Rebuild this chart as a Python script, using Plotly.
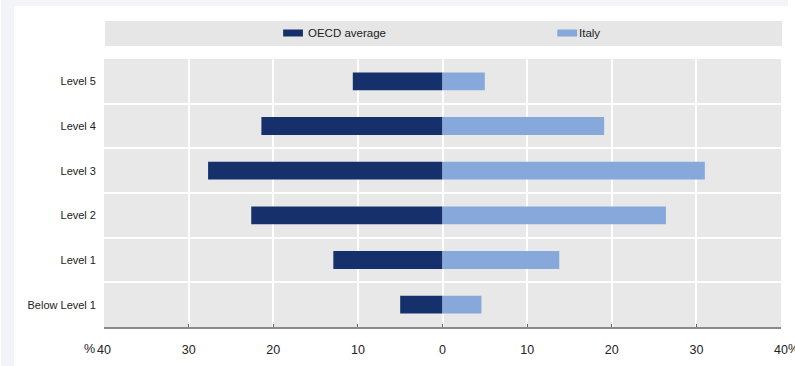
import plotly.graph_objects as go

categories = ["Below Level 1", "Level 1", "Level 2", "Level 3", "Level 4", "Level 5"]
oecd_average = [5.0, 12.9, 22.6, 27.7, 21.4, 10.6]
italy = [4.6, 13.8, 26.4, 31.0, 19.1, 5.0]
series_names = ["OECD average", "Italy"]
x_tickvals = [-40, -30, -20, -10, 0, 10, 20, 30, 40]
x_ticktext = ["40", "30", "20", "10", "0", "10", "20", "30", "40"]

FONT = "Liberation Sans Narrow, Arial Narrow, Liberation Sans, Arial, sans-serif"
NAVY = "#16306c"
LIGHT = "#87a8da"

fig = go.Figure()
fig.add_trace(go.Bar(
    y=categories, x=[-v for v in oecd_average], orientation="h", name=series_names[0],
    marker=dict(color=NAVY, line=dict(width=0)), width=0.4,
    customdata=oecd_average, hovertemplate="%{y}: %{customdata}%<extra>OECD average</extra>",
))
fig.add_trace(go.Bar(
    y=categories, x=italy, orientation="h", name=series_names[1],
    marker=dict(color=LIGHT, line=dict(width=0)), width=0.4,
    hovertemplate="%{y}: %{x}%<extra>Italy</extra>",
))

W, H = 795, 366
L, R, T, B = 104, 7, 59, 39
pw, ph = W - L - R, H - T - B


def px_x(p):
    return (p - L) / pw


def px_y(p):
    return (H - B - p) / ph


legend_shapes = []
legend_notes = []
for name, color, sx, tx in [(series_names[0], NAVY, 285, 308), (series_names[1], LIGHT, 562, 582)]:
    legend_shapes.append(dict(type="rect", xref="paper", yref="paper",
                              x0=px_x(sx), x1=px_x(sx + 20), y0=px_y(36.5), y1=px_y(29.5),
                              fillcolor=color, line=dict(width=0), layer="above"))
    legend_notes.append(dict(x=px_x(tx), y=px_y(33), xref="paper", yref="paper", text=name,
                             showarrow=False, xanchor="left", yanchor="middle",
                             font=dict(size=11.5, color="#222")))

fig.update_layout(
    width=W, height=H, autosize=False,
    margin=dict(l=L, r=R, t=T, b=B, pad=0),
    paper_bgcolor="white",
    plot_bgcolor="#e8e8e8",
    barmode="overlay",
    font=dict(family=FONT, size=12, color="#222"),
    showlegend=False,
    xaxis=dict(
        range=[-40, 40], tickvals=x_tickvals, ticktext=x_ticktext,
        showgrid=True, gridcolor="white", gridwidth=1.5,
        zeroline=False, showline=True, linecolor="#8a8a8a", linewidth=2,
        ticks="inside", ticklen=3, tickcolor="#666", tickwidth=1,
        tickfont=dict(size=12.5, color="#222"), ticklabelstandoff=10,
        fixedrange=True,
    ),
    xaxis2=dict(
        overlaying="x", side="top", anchor="y", range=[-40, 40],
        tickvals=x_tickvals, ticktext=x_ticktext, showgrid=False, zeroline=False,
        showline=False, ticks="", tickfont=dict(size=12.5, color="#555"),
        ticklabelstandoff=31, fixedrange=True,
    ),
    yaxis=dict(
        categoryorder="array", categoryarray=categories, range=[-0.5, 5.5],
        tickson="boundaries", showgrid=True, gridcolor="white", gridwidth=1.5,
        zeroline=False, showline=False, ticks="", ticklabelstandoff=7,
        tickfont=dict(size=11, color="#222"), fixedrange=True,
    ),
    yaxis2=dict(
        overlaying="y", anchor="free", position=0.5, side="right",
        range=[-0.5, 5.5], tickvals=[0.5, 1.5, 2.5, 3.5, 4.5],
        showticklabels=False, showgrid=False, zeroline=False,
        showline=True, linecolor="#333", linewidth=1.5,
        ticks="outside", ticklen=3, tickcolor="#555", tickwidth=1,
        layer="above traces", fixedrange=True,
    ),
    annotations=[
        dict(x=-40, y=0, xref="x", yref="paper", text="%", showarrow=False,
             xanchor="right", yanchor="top", xshift=-7, yshift=-13,
             font=dict(size=12.5, color="#222")),
        dict(x=40, y=0, xref="x", yref="paper", text="%", showarrow=False,
             xanchor="left", yanchor="top", xshift=5, yshift=-13,
             font=dict(size=12.5, color="#222")),
    ] + legend_notes,
    shapes=[
        # legend band
        dict(type="rect", xref="paper", yref="paper", x0=px_x(105), x1=px_x(789),
             y0=px_y(46), y1=px_y(21), fillcolor="#e6e6e6", line=dict(width=0), layer="above"),
        # page frame strips
        dict(type="rect", xref="paper", yref="paper", x0=px_x(0), x1=px_x(13),
             y0=px_y(H), y1=px_y(0), fillcolor="#f2f4f8", line=dict(width=0), layer="above"),
        dict(type="rect", xref="paper", yref="paper", x0=px_x(0), x1=px_x(W),
             y0=px_y(6), y1=px_y(0), fillcolor="#f2f4f8", line=dict(width=0), layer="above"),
    ] + legend_shapes,
)

post = (
    "document.documentElement.style.margin='0';"
    "document.documentElement.style.overflow='hidden';"
    "document.body.style.margin='0';"
    "document.body.style.overflow='hidden';"
)
fig.write_html("out.html", config={"displayModeBar": False, "responsive": False},
               post_script=post)
